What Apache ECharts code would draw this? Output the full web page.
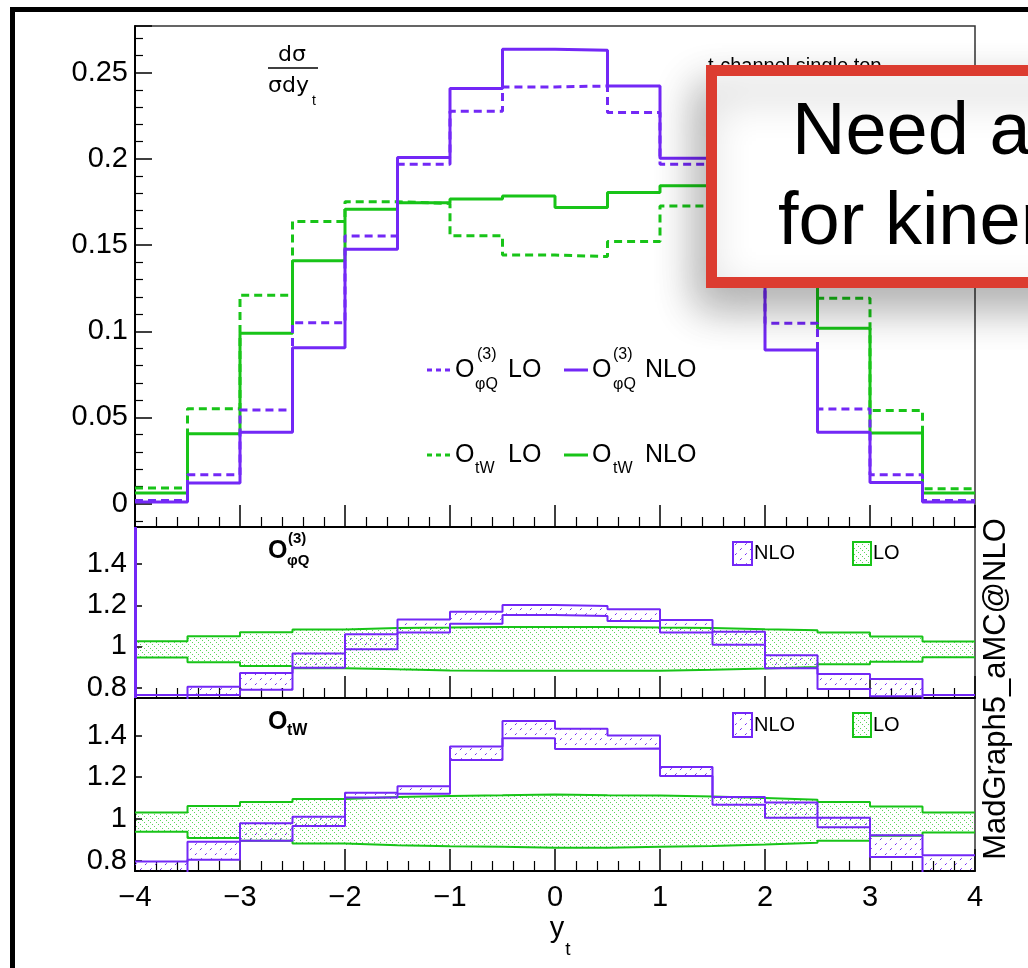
<!DOCTYPE html>
<html>
<head>
<meta charset="utf-8">
<script src="https://cdn.jsdelivr.net/npm/echarts@6/dist/echarts.min.js"></script>
<style>
  html, body { margin: 0; padding: 0; background: #fff; }
  #chart { width: 1028px; height: 968px; }
</style>
</head>
<body>
<div id="chart"></div>
<script>
// bin edges of y_t
var binEdges = [-4, -3.5, -3, -2.5, -2, -1.5, -1, -0.5, 0, 0.5, 1, 1.5, 2, 2.5, 3, 3.5, 4];

// main panel: normalised d(sigma)/dy_t
var phiLO  = [0.0019, 0.0168, 0.0544, 0.105, 0.1552, 0.1969, 0.2276, 0.2417, 0.2422, 0.2269, 0.1968, 0.155, 0.1047, 0.0549, 0.0168, 0.0019];
var phiNLO = [0.001, 0.012, 0.0415, 0.0905, 0.1475, 0.2008, 0.2407, 0.2635, 0.263, 0.2422, 0.2003, 0.147, 0.0892, 0.0415, 0.0123, 0.001];
var twLO   = [0.0091, 0.055, 0.1209, 0.1637, 0.1751, 0.1741, 0.1554, 0.1442, 0.1433, 0.152, 0.1727, 0.175, 0.163, 0.1192, 0.054, 0.0087];
var twNLO  = [0.0062, 0.0405, 0.0988, 0.1409, 0.1707, 0.1745, 0.1767, 0.1784, 0.1717, 0.1804, 0.1844, 0.178, 0.14, 0.1018, 0.041, 0.0062];

// ratio panel O_phiQ(3): scale bands
var phiBandLOlo  = [0.947, 0.923, 0.905, 0.895, 0.889, 0.884, 0.882, 0.882, 0.882, 0.882, 0.887, 0.893, 0.901, 0.914, 0.926, 0.948];
var phiBandLOhi  = [1.026, 1.05, 1.069, 1.082, 1.09, 1.092, 1.095, 1.095, 1.095, 1.092, 1.09, 1.084, 1.079, 1.068, 1.048, 1.024];
var phiBandNLOlo = [0.74, 0.765, 0.79, 0.897, 0.987, 1.068, 1.111, 1.153, 1.148, 1.124, 1.068, 1.008, 0.894, 0.794, 0.758, 0.74];
var phiBandNLOhi = [0.765, 0.805, 0.871, 0.966, 1.06, 1.131, 1.169, 1.202, 1.197, 1.181, 1.129, 1.071, 0.958, 0.866, 0.842, 0.765];

// ratio panel O_tW: scale bands
var twBandLOlo  = [0.938, 0.908, 0.895, 0.882, 0.874, 0.869, 0.866, 0.861, 0.862, 0.866, 0.87, 0.877, 0.885, 0.895, 0.919, 0.935];
var twBandLOhi  = [1.031, 1.062, 1.081, 1.096, 1.105, 1.11, 1.113, 1.117, 1.113, 1.112, 1.108, 1.1, 1.092, 1.081, 1.06, 1.031];
var twBandNLOlo = [0.74, 0.804, 0.895, 0.966, 1.103, 1.121, 1.283, 1.387, 1.335, 1.338, 1.206, 1.068, 1.006, 0.96, 0.817, 0.74];
var twBandNLOhi = [0.796, 0.89, 0.979, 1.01, 1.125, 1.157, 1.347, 1.47, 1.432, 1.4, 1.249, 1.105, 1.079, 1.006, 0.922, 0.825];

var PURPLE = '#7328f6';
var GREEN = '#18c418';
var FONT = '"Liberation Sans", Arial, Helvetica, sans-serif';

// histogram -> step points (value held until the next edge)
function steps(vals) {
  var pts = [];
  for (var i = 0; i < vals.length; i++) pts.push([binEdges[i], vals[i]]);
  pts.push([binEdges[vals.length], vals[vals.length - 1]]);
  return pts;
}

// hatched fill used by ROOT style bands
function hatch(color, size, forward, dash) {
  var c = document.createElement('canvas');
  c.width = size; c.height = size;
  var g = c.getContext('2d');
  g.strokeStyle = color;
  g.lineWidth = 1;
  g.setLineDash(dash);
  g.beginPath();
  if (forward) { g.moveTo(0, size); g.lineTo(size, 0); }
  else { g.moveTo(0, 0); g.lineTo(size, size); }
  g.stroke();
  return { image: c, repeat: 'repeat' };
}

var hatchNLO = hatch(PURPLE, 10, true, [2.5, 4.5]);
var hatchLO = hatch(GREEN, 6, false, [1, 2]);

function histLine(name, vals, color, dashed) {
  return {
    name: name, type: 'line', xAxisIndex: 0, yAxisIndex: 0,
    step: 'end', symbol: 'none', silent: true,
    data: steps(vals),
    lineStyle: { color: color, width: 3, type: dashed ? [8, 5] : 'solid' }
  };
}

function edgeLine(name, grid, vals, color, mark) {
  var s = {
    name: name, type: 'line', xAxisIndex: grid, yAxisIndex: grid,
    step: 'end', symbol: 'none', silent: true,
    data: steps(vals),
    lineStyle: { color: color, width: 2 }
  };
  if (mark) s.markLine = mark;
  return s;
}

// hatched area of a band, one rect per bin
function bandFill(name, grid, lo, hi, fill) {
  var data = lo.map(function(v, i) { return [binEdges[i], binEdges[i + 1], v, hi[i]]; });
  return {
    name: name, type: 'custom', xAxisIndex: grid, yAxisIndex: grid, silent: true,
    data: data,
    encode: { x: [0, 1], y: [2, 3] },
    renderItem: function(params, api) {
      var a = api.coord([api.value(0), api.value(3)]);
      var b = api.coord([api.value(1), api.value(2)]);
      var cs = params.coordSys;
      var r = echarts.graphic.clipRectByRect(
        { x: a[0], y: a[1], width: b[0] - a[0], height: b[1] - a[1] },
        { x: cs.x, y: cs.y, width: cs.width, height: cs.height });
      if (!r) return null;
      return { type: 'rect', shape: r, style: { fill: fill, stroke: null } };
    }
  };
}

function band(name, grid, lo, hi, color, fill, mark) {
  return [
    bandFill(name, grid, lo, hi, fill),
    edgeLine(name + ' low', grid, lo, color),
    edgeLine(name + ' high', grid, hi, color, mark)
  ];
}

var gridTops = [26, 527, 698];
var gridHeights = [501, 171, 173];

var xAxes = [0, 1, 2].map(function(i) {
  return {
    gridIndex: i, type: 'value', min: -4, max: 4, interval: 1,
    axisLine: { show: true, onZero: false, lineStyle: { color: '#000', width: 2 } },
    axisTick: { show: true, inside: true, length: 22, lineStyle: { color: '#000', width: 1.5 } },
    minorTick: { show: true, splitNumber: 5, length: 10, lineStyle: { color: '#000', width: 1.2 } },
    splitLine: { show: false },
    axisLabel: {
      show: i === 2, color: '#000', fontFamily: FONT, fontSize: 29, margin: 12,
      formatter: function(v) { return v < 0 ? '\u2212' + (-v) : String(v); }
    }
  };
});

var yAxes = [
  {
    gridIndex: 0, type: 'value', min: -0.0135, max: 0.277,
    minInterval: 0.05, maxInterval: 0.05, splitNumber: 6,
    axisLine: { show: true, onZero: false, lineStyle: { color: '#000', width: 2 } },
    axisTick: { show: true, inside: true, length: 17, lineStyle: { color: '#000', width: 1.5 } },
    minorTick: { show: true, splitNumber: 5, length: 8, lineStyle: { color: '#000', width: 1.2 } },
    splitLine: { show: false },
    axisLabel: { color: '#000', fontFamily: FONT, fontSize: 29, margin: 7, showMinLabel: false, showMaxLabel: false }
  }
];
[1, 2].forEach(function(i) {
  yAxes.push({
    gridIndex: i, type: 'value', min: 0.75, max: 1.58,
    minInterval: 0.2, maxInterval: 0.2, splitNumber: 4,
    axisLine: { show: true, onZero: false, lineStyle: { color: '#000', width: 2 } },
    axisTick: { show: true, inside: true, length: 7, lineStyle: { color: '#000', width: 1.5 } },
    splitLine: { show: false },
    axisLabel: { color: '#000', fontFamily: FONT, fontSize: 29, margin: 8, showMinLabel: false, showMaxLabel: false }
  });
});

var edgeMark = {
  symbol: 'none', silent: true, label: { show: false },
  lineStyle: { color: PURPLE, width: 3, type: 'solid' },
  data: [{ xAxis: binEdges[0] }]
};

var series = [
  histLine('O_tW LO', twLO, GREEN, true),
  histLine('O_tW NLO', twNLO, GREEN, false),
  histLine('O_phiQ LO', phiLO, PURPLE, true),
  histLine('O_phiQ NLO', phiNLO, PURPLE, false)
]
  .concat(band('phiLO', 1, phiBandLOlo, phiBandLOhi, GREEN, hatchLO))
  .concat(band('phiNLO', 1, phiBandNLOlo, phiBandNLOhi, PURPLE, hatchNLO, edgeMark))
  .concat(band('twLO', 2, twBandLOlo, twBandLOhi, GREEN, hatchLO))
  .concat(band('twNLO', 2, twBandNLOlo, twBandNLOhi, PURPLE, hatchNLO));

// text helpers for graphic labels
function txt(s, x, y, size, opts) {
  opts = opts || {};
  return {
    type: 'text', z: opts.z || 50, silent: true,
    x: x, y: y, rotation: opts.rotation || 0,
    style: {
      text: s, x: 0, y: 0, fill: opts.fill || '#000',
      font: (opts.weight || 'normal') + ' ' + size + 'px ' + (opts.family || FONT),
      textAlign: opts.align || 'left', textVerticalAlign: 'middle'
    }
  };
}
function seg(x1, y1, x2, y2, color, dashed, width) {
  return {
    type: 'line', z: 50, silent: true,
    shape: { x1: x1, y1: y1, x2: x2, y2: y2 },
    style: { stroke: color, lineWidth: width || 3, lineDash: dashed ? [5, 4] : null }
  };
}
function box(x, y, w, h, color, fill) {
  return {
    type: 'rect', z: 50, silent: true,
    shape: { x: x, y: y, width: w, height: h },
    style: { fill: fill, stroke: color, lineWidth: 2 }
  };
}

var FRAC_FONT = '"DejaVu Sans", sans-serif';
var graphics = [
  // outer black frame
  { type: 'rect', z: 0, silent: true, shape: { x: 12.5, y: 9.5, width: 1100, height: 1100 },
    style: { fill: 'none', stroke: '#000', lineWidth: 5 } },

  // d sigma / sigma dy_t
  txt('d\u03c3', 292, 55, 22, { align: 'center', family: FRAC_FONT }),
  seg(268, 68, 318, 68, '#000', false, 1.5),
  txt('\u03c3dy', 268, 86, 22, { family: FRAC_FONT }),
  txt('t', 312, 101, 14),

  // main legend
  seg(427, 370, 453, 370, PURPLE, true),
  txt('O', 455, 370, 25), txt('(3)', 477, 355, 16), txt('\u03c6Q', 475, 385, 16), txt('LO', 508, 370, 25),
  seg(564, 370, 588, 370, PURPLE, false),
  txt('O', 592, 370, 25), txt('(3)', 613, 355, 16), txt('\u03c6Q', 613, 385, 16), txt('NLO', 645, 370, 25),
  seg(427, 455, 453, 455, GREEN, true),
  txt('O', 455, 455, 25), txt('tW', 475, 469, 16), txt('LO', 508, 455, 25),
  seg(564, 455, 588, 455, GREEN, false),
  txt('O', 592, 455, 25), txt('tW', 613, 469, 16), txt('NLO', 645, 455, 25),

  // panel labels
  txt('O', 268, 551, 25, { weight: 'bold' }), txt('(3)', 288, 539, 15, { weight: 'bold' }),
  txt('\u03c6Q', 287, 561, 15, { weight: 'bold' }),
  txt('O', 268, 722, 25, { weight: 'bold' }), txt('tW', 287, 731, 16, { weight: 'bold' }),

  // band legends
  box(733, 542, 19, 23, PURPLE, hatchNLO), txt('NLO', 754, 553, 20),
  box(853, 542, 18, 23, GREEN, hatchLO), txt('LO', 873, 553, 20),
  box(733, 713, 19, 24, PURPLE, hatchNLO), txt('NLO', 754, 725, 20),
  box(853, 713, 18, 24, GREEN, hatchLO), txt('LO', 873, 725, 20),

  // axis title y_t
  txt('y', 557, 929, 29, { align: 'center' }),
  txt('t', 568, 950, 19, { align: 'center' }),

  // generator tag
  txt('MadGraph5_aMC@NLO', 996, 689, 31, { align: 'center', rotation: Math.PI / 2 }),

  // process label, mostly hidden under the note box
  txt('t-channel single top', 708, 66, 20),

  // overlaid note box
  { type: 'rect', z: 90, silent: true, shape: { x: 711.5, y: 70.5, width: 400, height: 212 },
    style: { fill: '#fff', stroke: '#dc3c30', lineWidth: 11,
      shadowBlur: 40, shadowColor: 'rgba(0,0,0,0.3)', shadowOffsetX: -10, shadowOffsetY: 20 } },
  txt('Need a', 792, 134, 74, { z: 95 }),
  txt('for kinem', 778, 224, 74, { z: 95 })
];

var option = {
  animation: false,
  backgroundColor: '#fff',
  grid: gridTops.map(function(t, i) {
    return { left: 135, top: t, width: 840, height: gridHeights[i], show: true,
      borderColor: '#333', borderWidth: 1.5, backgroundColor: 'transparent' };
  }),
  xAxis: xAxes,
  yAxis: yAxes,
  series: series,
  graphic: { elements: graphics }
};

var chart = echarts.init(document.getElementById('chart'));
chart.setOption(option);
</script>
</body>
</html>
